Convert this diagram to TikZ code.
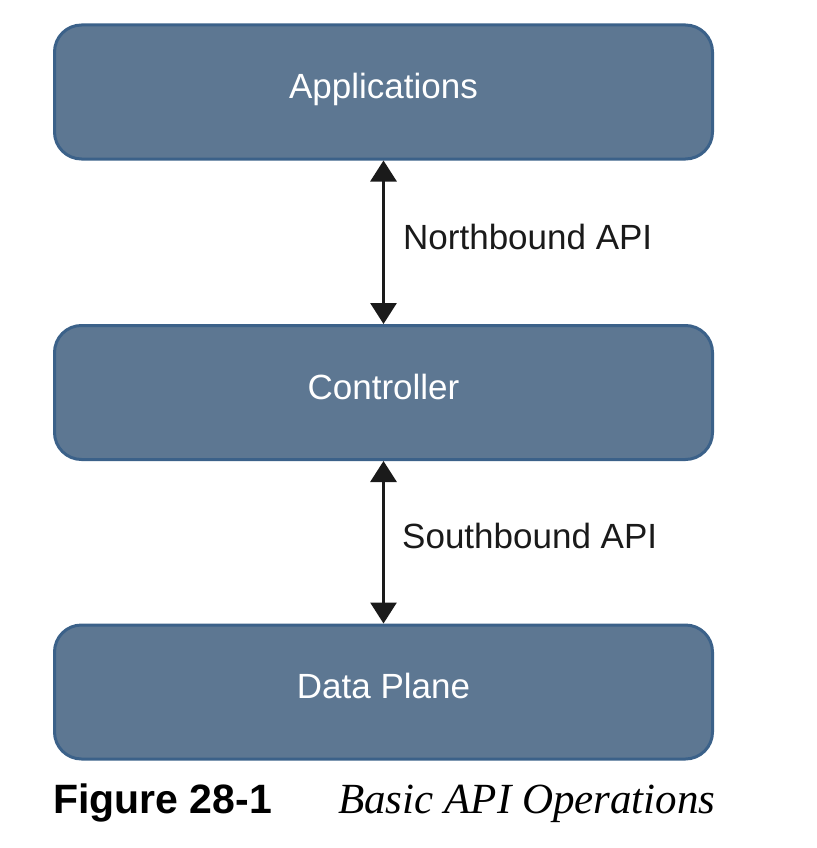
\documentclass[tikz,border=0pt]{standalone}
\usepackage{fontspec}
\setmainfont{Liberation Sans}
\newfontfamily\captionserif{Liberation Serif}
\usetikzlibrary{arrows.meta}
\definecolor{layerfill}{HTML}{5D7792}
\definecolor{layerdraw}{HTML}{3B6189}
\definecolor{apiline}{HTML}{1A1A1A}

\begin{document}
\begin{tikzpicture}[x=1pt,y=-1pt,
					layer/.style={draw=layerdraw,fill=layerfill,line width=3pt,rounded corners=27pt,minimum width=658pt,minimum height=134pt,text=white,text height=25pt,text depth=12pt,font=\fontsize{35}{40}\selectfont},
					api/.style={draw=apiline,line width=3pt,{Triangle[width=26pt,length=21pt]}-{Triangle[width=26pt,length=21pt]}},
					apilabel/.style={anchor=west,inner sep=0pt,text=apiline,font=\fontsize{35}{40}\selectfont}]
					\useasboundingbox (0,0) rectangle (816,848);
					\node[layer] (A) at (383.5,92) {Applications};
					\node[layer] (C) at (383.5,392.5) {Controller};
					\node[layer] (D) at (383.5,692) {Data Plane};
					\draw[api] (A) -- (C);
					\draw[api] (C) -- (D);
					\node[apilabel] (N) at (403,237) {Northbound API};
					\node[apilabel] (S) at (402,536) {Southbound API};
					\node[anchor=base west,inner sep=0pt,font=\fontsize{41}{48}\selectfont\bfseries] (F) at (53,813) {Figure 28-1};
					\node[anchor=base west,inner sep=0pt,font=\fontsize{43}{50}\selectfont\captionserif\itshape] (T) at (338,813) {Basic API Operations};
				\end{tikzpicture}
\end{document}
